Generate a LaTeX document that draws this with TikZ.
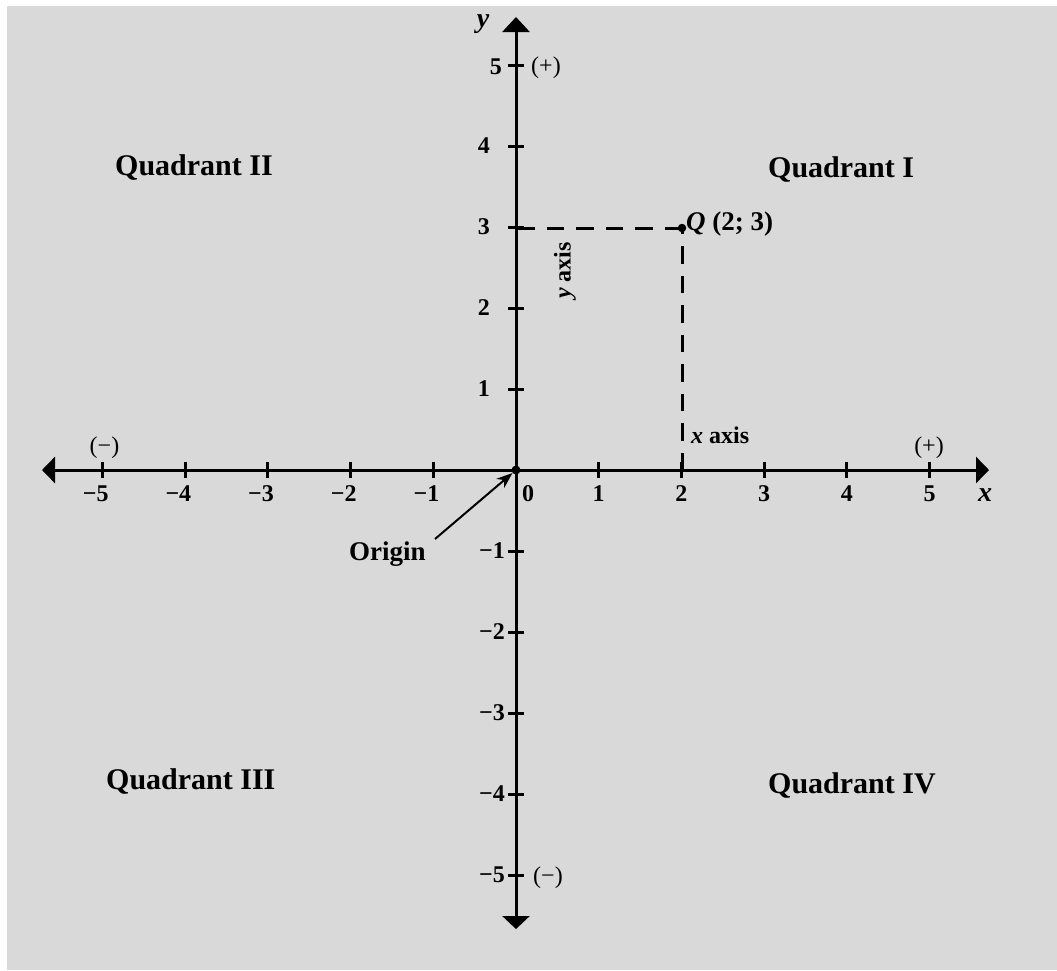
\documentclass[tikz,border=0pt]{standalone}
\usepackage{fontspec}
\setmainfont{Liberation Serif}
\usetikzlibrary{arrows.meta}
\definecolor{bggray}{HTML}{D9D9D9}
\begin{document}
\begin{tikzpicture}[x=1pt,y=-1pt,
  axisline/.style={line width=3pt},
  tickmark/.style={line width=3pt},
  ticklbl/.style={font=\fontsize{24}{28}\selectfont\bfseries, inner sep=0pt},
  signlbl/.style={font=\fontsize{24}{28}\selectfont, inner sep=0pt},
  axislbl/.style={font=\fontsize{28}{32}\selectfont\bfseries\itshape, inner sep=0pt},
  quadlbl/.style={font=\fontsize{30}{34}\selectfont\bfseries, inner sep=0pt, anchor=base west},
  notelbl/.style={font=\fontsize{24}{28}\selectfont\bfseries, inner sep=0pt},
  guide/.style={line width=3pt, dash pattern=on 17.5pt off 12pt},
  ptdot/.style={circle, fill=black, inner sep=0pt, minimum size=8.5pt},
  ]
\useasboundingbox (0,0) rectangle (1057,970);
\fill[white] (0,0) rectangle (1057,970);
\fill[bggray] (7,6) rectangle (1057,970);

% axes
\coordinate (xl) at (42,470);
\coordinate (xr) at (989,470);
\coordinate (yt) at (516,17);
\coordinate (yb) at (516,929);
\draw[axisline, {Triangle[length=13pt,width=26pt]}-{Triangle[length=13pt,width=26pt]}] (xl) -- (xr);
\draw[axisline, {Triangle[length=13pt,width=27pt]}-{Triangle[length=15pt,width=27pt]}] (yb) -- (yt);

% ticks
\foreach \i in {-5,-4,-3,-2,-1,1,2,3,4,5} {
  \draw[tickmark] ({516+82.7*\i},462) -- ({516+82.7*\i},478);
  \draw[tickmark] (508,{470-81*\i}) -- (524,{470-81*\i});
}

% x tick labels
\foreach \i in {1,...,5} {
  \node[ticklbl] (xn\i) at ({516-82.7*\i},494) {\llap{−}\i};
  \node[ticklbl] (xp\i) at ({516+82.7*\i},494) {\i};
}
\node[ticklbl] (x0) at (528,494) {0};

% y tick labels
\foreach \i in {1,...,4} {
  \node[ticklbl, anchor=east] (yp\i) at (490,{470-81*\i}) {\i};
}
\node[ticklbl, anchor=east] (yp5) at (502,{470-81*5+1.5}) {5};
\foreach \i in {1,...,5} {
  \node[ticklbl, anchor=east] (yn\i) at (505,{470+81*\i}) {−\i};
}

% sign labels
\node[signlbl] (sgnT) at (546,68) {(+)};
\node[signlbl] (sgnB) at (548,877.5) {(−)};
\node[signlbl] (sgnL) at (104.5,448) {(−)};
\node[signlbl] (sgnR) at (929,448) {(+)};

% axis names
\node[axislbl] (ylbl) at (483,24) {y};
\node[axislbl] (xlbl) at (985,495) {x};

% quadrant labels
\node[quadlbl] (q2) at (115,175) {Quadrant II};
\node[quadlbl] (q1) at (768,177) {Quadrant I};
\node[quadlbl] (q3) at (106,789) {Quadrant III};
\node[quadlbl] (q4) at (768,793) {Quadrant IV};

% point Q and guides
\coordinate (Qc) at (682,228);
\coordinate (Qy) at (516,228);
\coordinate (Qx) at (682,470);
\draw[guide] (Qc) -- (Qy);
\draw[guide] (Qx) -- (Qc);
\node[ptdot] (Q) at (Qc) {};
\node[font=\fontsize{27}{31}\selectfont\bfseries, inner sep=0pt, anchor=base west] (Qlbl) at (686,230) {\textit{Q} (2; 3)};

\node[notelbl, anchor=base west] (xax) at (691,443) {\textit{x} axis};
\node[notelbl, rotate=90] (yax) at (565,270.5) {\textit{y} axis};

% origin
\node[ptdot, minimum size=9pt] (O) at (516,470) {};
\node[font=\fontsize{27}{31}\selectfont\bfseries, inner sep=0pt, anchor=base west] (orig) at (349,560) {Origin};
\coordinate (arrstart) at (435,539);
\draw[line width=2pt, -{Stealth[length=16pt,width=12pt]}] (arrstart) -- (O);
\end{tikzpicture}
\end{document}
